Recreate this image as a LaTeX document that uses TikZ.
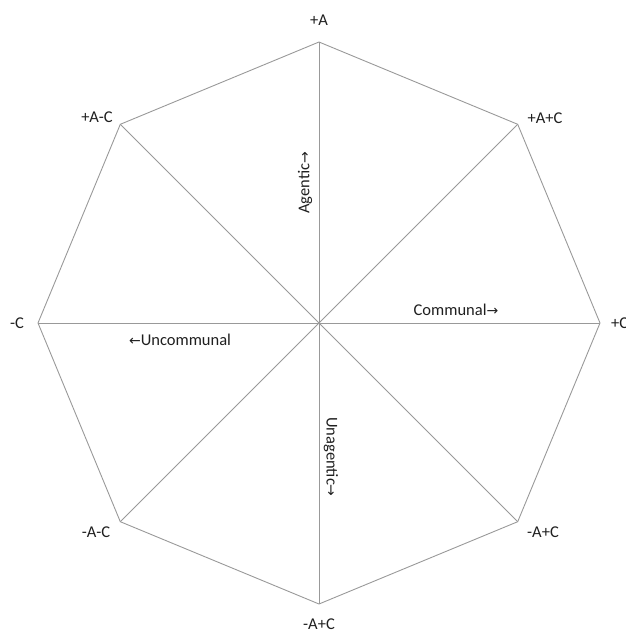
\documentclass[tikz,border=0pt]{standalone}
\usepackage{fontspec}
\usetikzlibrary{calc}
\setmainfont{Carlito}
\newfontfamily\arrfont{DejaVu Sans}
\newcommand{\rarr}{{\arrfont\fontsize{14}{14}\selectfont →}}
\newcommand{\larr}{{\arrfont\fontsize{14}{14}\selectfont ←}}
\begin{document}
\begin{tikzpicture}[x=1pt,y=-1pt,
  edge/.style={draw=black!40,line width=0.9pt},
  lbl/.style={font=\fontsize{16.5}{18}\selectfont,text=black!88,inner sep=0pt}]
\useasboundingbox (0,0) rectangle (625,634);
\coordinate (c) at (319,323);
\foreach \n/\a in {t/90,tr/45,r/0,br/-45,b/-90,bl/-135,l/180,tl/135}{
  \coordinate (\n) at ($(c)+({281*cos(\a)},{-281*sin(\a)})$);
}
\draw[edge] (t)--(tr)--(r)--(br)--(b)--(bl)--(l)--(tl)--cycle;
\foreach \n in {t,tr,r,br,b,bl,l,tl}{\draw[edge] (c)--(\n);}
\node[lbl] (lt) at (319,20) {+A};
\node[lbl] (ltl) at (97,117) {+A-C};
\node[lbl] (ltr) at (545,118) {+A+C};
\node[lbl] (ll) at (17,323) {-C};
\node[lbl,anchor=west] (lr) at (611,323) {+C};
\node[lbl] (lbl) at (96,532) {-A-C};
\node[lbl] (lbr) at (543,532) {-A+C};
\node[lbl] (lb) at (319,624) {-A+C};
\node[lbl,rotate=90] (ag) at (305,183) {Agentic\rarr};
\node[lbl,rotate=-90] (ua) at (331,457) {Unagentic\rarr};
\node[lbl] (uc) at (180,340) {\larr Uncommunal};
\node[lbl] (co) at (456,310) {Communal\rarr};
\end{tikzpicture}
\end{document}
